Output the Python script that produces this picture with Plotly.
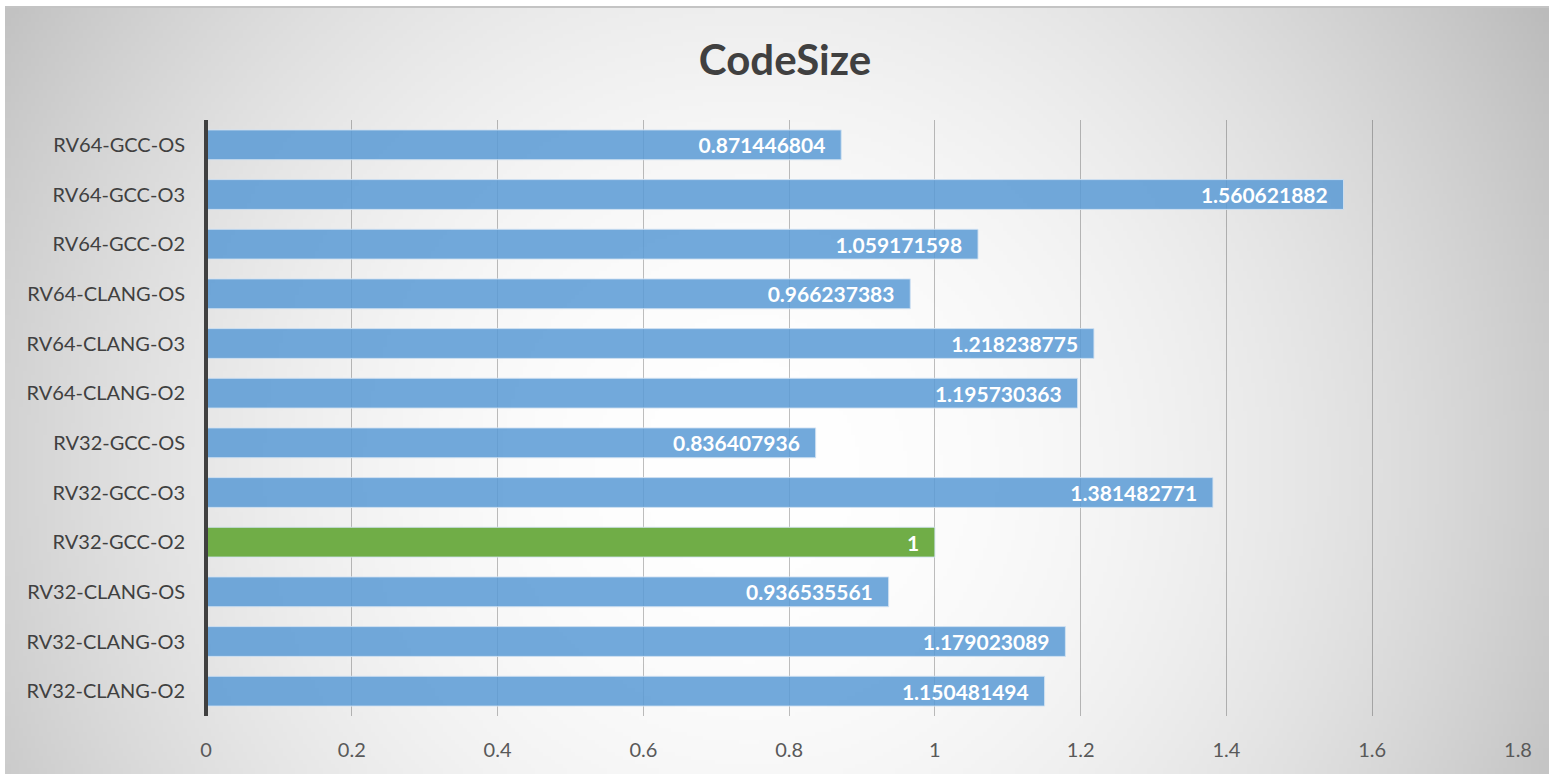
import base64, struct, zlib
import numpy as np
import plotly.graph_objects as go

categories = ["RV32-CLANG-O2", "RV32-CLANG-O3", "RV32-CLANG-OS",
              "RV32-GCC-O2", "RV32-GCC-O3", "RV32-GCC-OS",
              "RV64-CLANG-O2", "RV64-CLANG-O3", "RV64-CLANG-OS",
              "RV64-GCC-O2", "RV64-GCC-O3", "RV64-GCC-OS"]
values = [1.150481494, 1.179023089, 0.936535561,
          1, 1.381482771, 0.836407936,
          1.195730363, 1.218238775, 0.966237383,
          1.059171598, 1.560621882, 0.871446804]
baseline = "RV32-GCC-O2"
x_ticks = [0, 0.2, 0.4, 0.6, 0.8, 1, 1.2, 1.4, 1.6, 1.8]
title_text = "CodeSize"

W, H = 1549, 774
L, R, T, B = 206, 1518, 120, 716
pw, ph = R - L, B - T

# radial gradient background image
cw, ch = W - 5, H - 8
sw, sh = cw // 4, ch // 4
cx, cy = 745.0, 462.0
yy, xx = np.mgrid[0:sh, 0:sw]
px = (xx + 0.5) * cw / sw
py = (yy + 0.5) * ch / sh
d = np.sqrt((px - cx) ** 2 + (py - cy) ** 2)
dmax = np.sqrt(max(cx, cw - cx) ** 2 + max(cy, ch - cy) ** 2)
t = d / dmax
v = np.clip(255 - 68 * t ** 2.0, 0, 255).astype(np.uint8)
raw = b"".join(b"\x00" + v[r].tobytes() for r in range(sh))
def chunk(tag, data):
    c = struct.pack(">I", len(data)) + tag + data
    return c + struct.pack(">I", zlib.crc32(tag + data) & 0xffffffff)
png = (b"\x89PNG\r\n\x1a\n" + chunk(b"IHDR", struct.pack(">IIBBBBB", sw, sh, 8, 0, 0, 0, 0))
       + chunk(b"IDAT", zlib.compress(raw, 9)) + chunk(b"IEND", b""))
img_uri = "data:image/png;base64," + base64.b64encode(png).decode()

colors = ["rgba(112,173,71,1)" if c == baseline else "rgba(91,155,213,0.86)" for c in categories]
texts = [str(v) + "\u00a0\u00a0\u2009" for v in values]

fig = go.Figure(go.Bar(
    y=categories, x=values, orientation="h",
    marker=dict(color=colors, line=dict(color="rgba(210,226,242,0.9)", width=1)),
    text=texts, textposition="inside", insidetextanchor="end",
    textangle=0, constraintext="none",
    textfont=dict(family="Lato", size=21, color="white", weight="bold"),
    hoverinfo="skip",
))

fig.update_layout(
    width=W, height=H,
    margin=dict(l=L, r=W - R, t=T, b=H - B),
    paper_bgcolor="white", plot_bgcolor="rgba(0,0,0,0)",
    bargap=0.4, showlegend=False,
    title=dict(text="<b>" + title_text + "</b>", x=785 / W, xanchor="center",
               y=1 - 60 / H, yanchor="middle",
               font=dict(family="Lato", size=42, color="#404040")),
    images=[dict(source=img_uri, xref="paper", yref="paper",
                 x=(5 - L) / pw, y=1 + (T - 8) / ph,
                 sizex=cw / pw, sizey=ch / ph,
                 xanchor="left", yanchor="top", sizing="stretch", layer="below")],
    shapes=[dict(type="line", xref="paper", yref="paper",
                 x0=(5 - L) / pw, x1=1 + (W - R) / pw,
                 y0=1 + (T - 7) / ph, y1=1 + (T - 7) / ph,
                 line=dict(color="#c4c4c4", width=2)),
            dict(type="line", xref="paper", yref="paper",
                 x0=0, x1=0, y0=0, y1=1, layer="above",
                 line=dict(color="#404040", width=4))],
    xaxis=dict(range=[0, 1.8], tickvals=x_ticks, ticktext=[f"{x:g}" for x in x_ticks],
               showgrid=True, gridcolor="rgba(0,0,0,0.25)", gridwidth=1,
               zeroline=False, showline=False, ticks="",
               ticklabelstandoff=20,
               tickfont=dict(family="Lato", size=20, color="#595959")),
    yaxis=dict(categoryorder="array", categoryarray=categories,
               showgrid=False, zeroline=False,
               showline=False, ticks="", ticklabelstandoff=20,
               tickfont=dict(family="Lato", size=20, color="#404040")),
)

fig.write_html("out.html")
